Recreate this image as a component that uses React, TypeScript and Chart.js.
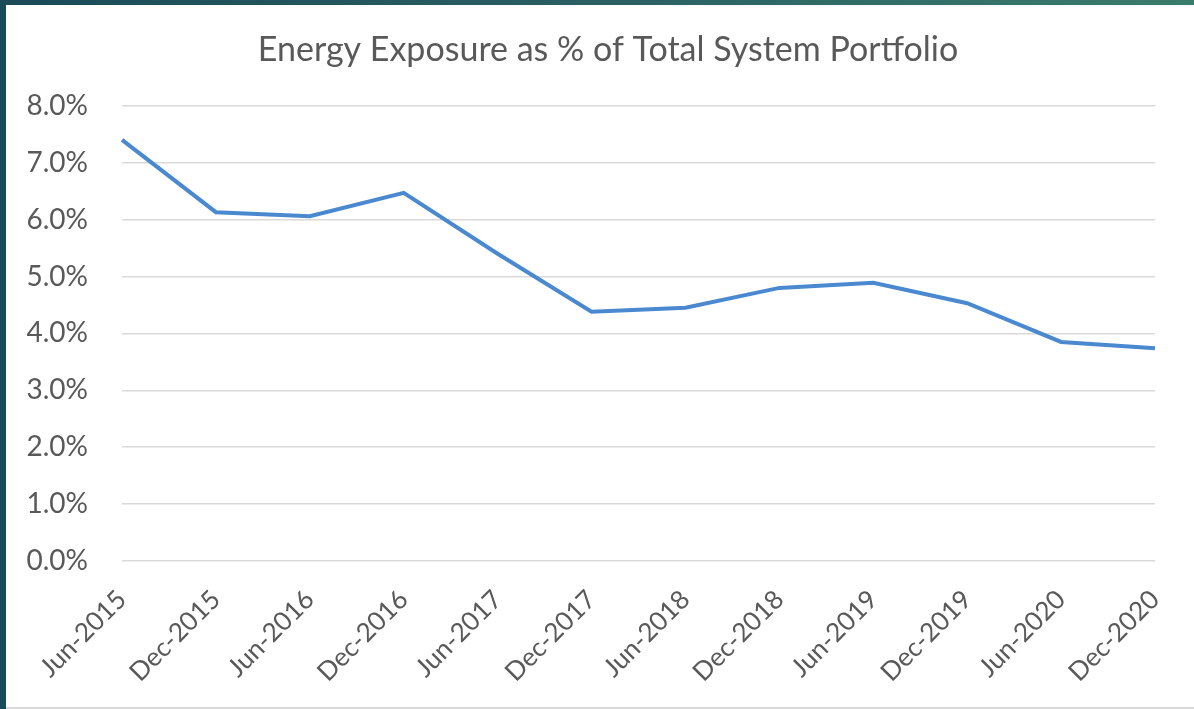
import React, { useEffect, useRef } from "react";
import { Chart, registerables } from "chart.js";

Chart.register(...registerables);

const categories = [
  "Jun-2015", "Dec-2015", "Jun-2016", "Dec-2016", "Jun-2017", "Dec-2017",
  "Jun-2018", "Dec-2018", "Jun-2019", "Dec-2019", "Jun-2020", "Dec-2020",
];
const energyExposure = [7.4, 6.13, 6.06, 6.47, 5.4, 4.38, 4.45, 4.8, 4.89, 4.53, 3.85, 3.74];
const yTicks = [0, 1, 2, 3, 4, 5, 6, 7, 8];
const chartTitle = "Energy Exposure as % of Total System Portfolio";

const FONT = "Lato, 'Open Sans', sans-serif";
const TEXT = "#595959";

export default function App() {
  const ref = useRef<HTMLCanvasElement | null>(null);

  useEffect(() => {
    if (!ref.current) return;
    const chart = new Chart(ref.current, {
      type: "line",
      data: {
        labels: categories,
        datasets: [
          {
            data: energyExposure,
            borderColor: "#4a89cf",
            borderWidth: 4,
            pointRadius: 0,
            tension: 0,
            fill: false,
          },
        ],
      },
      options: {
        animation: false,
        responsive: false,
        maintainAspectRatio: false,
        layout: { padding: { left: 26, right: 4, top: 0, bottom: 0 } },
        plugins: {
          legend: { display: false },
          tooltip: { enabled: false },
          title: {
            display: true,
            text: chartTitle,
            color: TEXT,
            font: { family: FONT, size: 34, weight: "normal", lineHeight: 1.2 },
            padding: { top: 30, bottom: 35 },
          },
        },
        scales: {
          x: {
            offset: false,
            grid: { display: false, drawTicks: false },
            border: { display: false },
            ticks: {
              color: TEXT,
              font: { family: FONT, size: 26 },
              minRotation: 45,
              maxRotation: 45,
              autoSkip: false,
              padding: 23,
            },
            afterFit: (s: any) => {
              s.height = 148;
              s.paddingLeft = 0;
              s.paddingRight = 0;
            },
          },
          y: {
            position: "left",
            min: 0,
            max: 8,
            afterBuildTicks: (s: any) => { s.ticks = yTicks.map((v) => ({ value: v })); },
            grid: { color: "#d9d9d9", lineWidth: 1.5, drawTicks: false },
            border: { display: false },
            ticks: {
              color: TEXT,
              font: { family: FONT, size: 28 },
              padding: 34,
              callback: (v: any) => Number(v).toFixed(1) + "%",
            },
            afterFit: (s: any) => { s.width = 96; },
          },
          yRight: {
            position: "right",
            display: true,
            grid: { display: false, drawTicks: false },
            border: { display: false },
            ticks: { display: false },
            afterFit: (s: any) => { s.width = 35; },
          },
        },
      },
    });
    return () => chart.destroy();
  }, []);

  return (
    <div
      style={{
        position: "fixed",
        left: 0,
        top: 0,
        width: 1194,
        height: 709,
        background: "linear-gradient(90deg, #1b4a58 0%, #2a5f63 50%, #3b7b6c 100%)",
        overflow: "hidden",
      }}
    >
      <div
        style={{
          position: "absolute",
          left: 6,
          top: 5,
          width: 1188,
          height: 704,
          background: "#ffffff",
          borderBottom: "2px solid #d9d9d9",
          boxSizing: "border-box",
        }}
      />
      <canvas
        ref={ref}
        width={1194}
        height={709}
        style={{ position: "absolute", left: 0, top: 0, width: 1194, height: 709 }}
      />
    </div>
  );
}
